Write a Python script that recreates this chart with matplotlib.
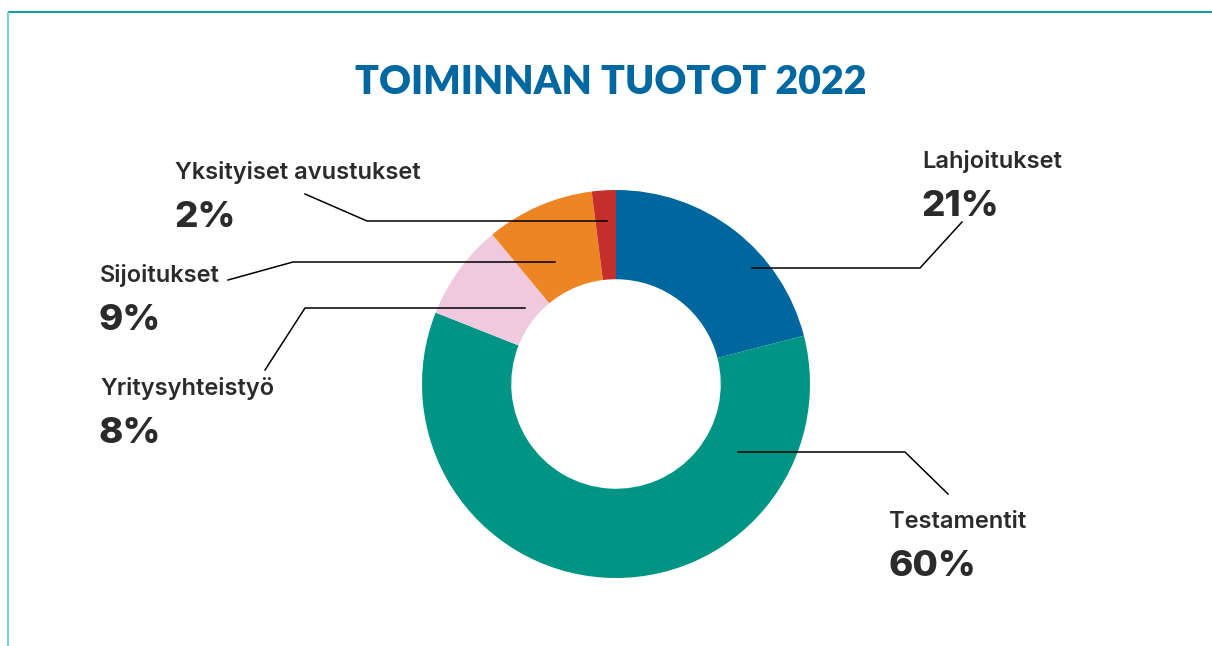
import matplotlib
matplotlib.use("Agg")
import matplotlib.pyplot as plt

# Data
categories = ["Lahjoitukset", "Testamentit", "Yritysyhteistyö", "Sijoitukset", "Yksityiset avustukset"]
shares = [21, 60, 8, 9, 2]
colors = ["#00669E", "#009484", "#EFC9DE", "#EE8524", "#C42F2B"]
title = "TOIMINNAN TUOTOT 2022"

W, H = 1212, 646
CX, CY, R = 616, 384, 194

# label layout (pixels): text x, name baseline y, leader polyline
label_layout = {
    "Lahjoitukset": (922, 168, [(752, 268), (920, 268), (962, 222)]),
    "Testamentit": (889, 528, [(738, 452), (905, 452), (948, 494)]),
    "Yritysyhteistyö": (100, 395, [(525, 308), (305, 308), (265, 370)]),
    "Sijoitukset": (100, 282, [(555, 262), (293, 262), (228, 280)]),
    "Yksityiset avustukset": (175, 179, [(607, 221), (367, 221), (305, 194)]),
}

plt.rcParams["font.family"] = ["Lato", "DejaVu Sans"]
TEXT = "#2B2B2B"
INTER = ["Inter", "DejaVu Sans"]

fig = plt.figure(figsize=(W / 100, H / 100), dpi=100)

ax = fig.add_axes([(CX - R) / W, (H - CY - R) / H, 2 * R / W, 2 * R / H])
ax.pie(shares, colors=colors, startangle=90, counterclock=False, radius=1,
       wedgeprops=dict(width=0.46, edgecolor="none"))
ax.set_xlim(-1, 1)
ax.set_ylim(-1, 1)
ax.set_aspect("auto")
ax.axis("off")

ov = fig.add_axes([0, 0, 1, 1], facecolor="none")
ov.set_xlim(0, W)
ov.set_ylim(H, 0)
ov.axis("off")

# frame lines
ov.plot([8, W], [12, 12], color="#00A19A", lw=1.4, solid_capstyle="butt")
ov.plot([8, 8], [12, H], color="#7FD2CD", lw=1.6, solid_capstyle="butt")

ov.text(611, 82, title, ha="center", va="center", fontsize=28.3,
        fontweight="heavy", color="#0068A1")

for name, share in zip(categories, shares):
    tx, ty, pts = label_layout[name]
    xs, ys = zip(*pts)
    ov.plot(xs, ys, color="black", lw=1.1)
    ov.text(tx, ty, name, ha="left", va="baseline", fontsize=17,
            fontweight="semibold", color=TEXT, family=INTER)
    ov.text(tx - 1, ty + 48, f"{share}%", ha="left", va="baseline",
            fontsize=26.5, fontweight="heavy", color=TEXT, family=INTER)

fig.savefig("out.png", dpi=100, facecolor="white")
